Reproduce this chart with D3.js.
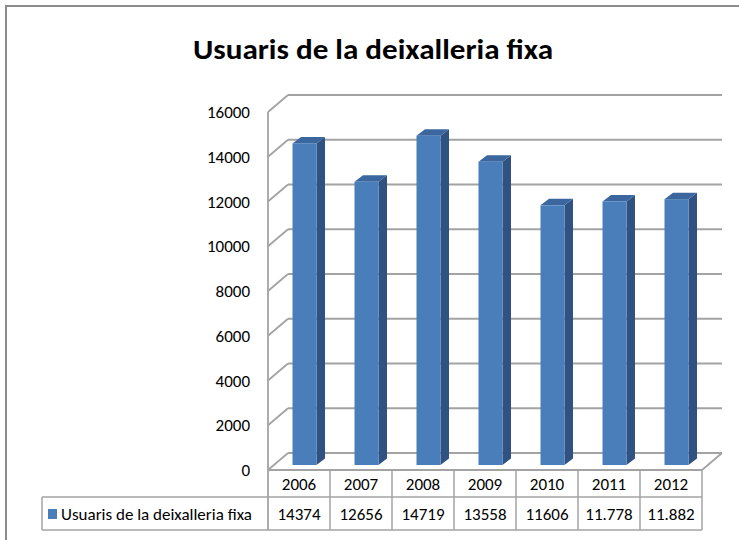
<!DOCTYPE html>
<html>
<head>
<meta charset="utf-8">
<script src="https://cdn.jsdelivr.net/npm/d3@7"></script>
<style>
	body { margin: 0; background: #fff; }
	#chart { width: 739px; height: 540px; }
</style>
</head>
<body>
<div id="chart"></div>
<script>
var titleText = 'Usuaris de la deixalleria fixa';
var seriesName = 'Usuaris de la deixalleria fixa';
var years = ['2006', '2007', '2008', '2009', '2010', '2011', '2012'];
var values = [14374, 12656, 14719, 13558, 11606, 11778, 11882];
var valueLabels = ['14374', '12656', '14719', '13558', '11606', '11.778', '11.882'];
var yTicks = [0, 2000, 4000, 6000, 8000, 10000, 12000, 14000, 16000];

var font = 'Carlito, "Liberation Sans Narrow", "Open Sans", sans-serif';
var gridColor = '#a3a3a3';

// 3d offsets
var wallDx = 20, wallDy = -17;
var barOffX = 5.5, barOffY = -5;
var barDx = 8.5, barDy = -6.5;

var svg = d3.select('#chart')
	.append('svg')
	.attr('width', 739)
	.attr('height', 540);

// outer frame (runs off the right and bottom edge)
svg.append('rect')
	.attr('x', 6).attr('y', 6)
	.attr('width', 760).attr('height', 560)
	.style('fill', 'none')
	.style('stroke', '#8c8c8c')
	.style('stroke-width', 2);

svg.append('text')
	.attr('x', 373)
	.attr('y', 59)
	.attr('text-anchor', 'middle')
	.attr('textLength', 360)
	.attr('lengthAdjust', 'spacingAndGlyphs')
	.style('font-family', font)
	.style('font-weight', 'bold')
	.style('font-size', '29px')
	.style('fill', '#000')
	.text(titleText);

var x = d3.scaleBand()
	.domain(years)
	.range([268, 702])
	.paddingInner(0)
	.paddingOuter(0);

var y = d3.scaleLinear()
	.domain([0, 16000])
	.range([470, 112]);

var grid = svg.append('g')
	.style('stroke', gridColor)
	.style('stroke-width', 1.8)
	.style('fill', 'none');

// back wall gridlines and side wall diagonals
yTicks.forEach(function(t) {
	grid.append('line')
		.attr('x1', x.range()[0] + wallDx).attr('y1', y(t) + wallDy)
		.attr('x2', x.range()[1] + wallDx).attr('y2', y(t) + wallDy);
	grid.append('line')
		.attr('x1', x.range()[0]).attr('y1', y(t))
		.attr('x2', x.range()[0] + wallDx).attr('y2', y(t) + wallDy);
});

// left front edge
grid.append('line')
	.attr('x1', x.range()[0]).attr('y1', y(16000))
	.attr('x2', x.range()[0]).attr('y2', 530);

// floor front edge and right diagonal
grid.append('line')
	.attr('x1', x.range()[0]).attr('y1', y(0))
	.attr('x2', x.range()[1]).attr('y2', y(0));
grid.append('line')
	.attr('x1', x.range()[1]).attr('y1', y(0))
	.attr('x2', x.range()[1] + wallDx).attr('y2', y(0) + wallDy);

// y labels
svg.append('g').selectAll('text')
	.data(yTicks)
	.enter().append('text')
	.attr('x', 250)
	.attr('y', function(d) { return y(d) + 6; })
	.attr('text-anchor', 'end')
	.style('font-family', font)
	.style('font-size', '17px')
	.style('fill', '#000')
	.text(function(d) { return d; });

// bars
var barW = 24;
var bars = svg.append('g').selectAll('g')
	.data(values)
	.enter().append('g');

function bx(i) { return x(years[i]) + (x.bandwidth() - barW) / 2 + barOffX; }
function by0() { return y(0) + barOffY; }
function byTop(d) { return by0() - (y(0) - y(d)); }

bars.append('path')
	.style('fill', '#2f5282')
	.attr('d', function(d, i) {
		var xr = bx(i) + barW, yt = byTop(d), yb = by0();
		return 'M' + xr + ',' + yt + 'L' + (xr + barDx) + ',' + (yt + barDy) +
			'L' + (xr + barDx) + ',' + (yb + barDy) + 'L' + xr + ',' + yb + 'Z';
	});

bars.append('path')
	.style('fill', '#3b679e')
	.attr('d', function(d, i) {
		var xl = bx(i), yt = byTop(d);
		return 'M' + xl + ',' + yt + 'L' + (xl + barDx) + ',' + (yt + barDy) +
			'L' + (xl + barW + barDx) + ',' + (yt + barDy) + 'L' + (xl + barW) + ',' + yt + 'Z';
	});

bars.append('rect')
	.attr('x', function(d, i) { return bx(i); })
	.attr('y', function(d) { return byTop(d); })
	.attr('width', barW)
	.attr('height', function(d) { return by0() - byTop(d); })
	.style('fill', '#4a7ebb');

// data table
var rowTop = 470, rowMid = 497, rowBot = 530;
var table = svg.append('g')
	.style('stroke', gridColor)
	.style('stroke-width', 1.5)
	.style('fill', 'none');

table.append('line')
	.attr('x1', 42).attr('y1', rowMid).attr('x2', x.range()[1]).attr('y2', rowMid);
table.append('line')
	.attr('x1', 42).attr('y1', rowBot).attr('x2', x.range()[1]).attr('y2', rowBot);
table.append('line')
	.attr('x1', 42).attr('y1', rowMid).attr('x2', 42).attr('y2', rowBot);

years.forEach(function(yr) {
	table.append('line')
		.attr('x1', x(yr) + x.bandwidth()).attr('y1', rowTop)
		.attr('x2', x(yr) + x.bandwidth()).attr('y2', rowBot);
});

svg.append('g').selectAll('text')
	.data(years)
	.enter().append('text')
	.attr('x', function(d) { return x(d) + x.bandwidth() / 2; })
	.attr('y', 490)
	.attr('text-anchor', 'middle')
	.style('font-family', font)
	.style('font-size', '17px')
	.style('fill', '#000')
	.text(function(d) { return d; });

svg.append('g').selectAll('text')
	.data(valueLabels)
	.enter().append('text')
	.attr('x', function(d, i) { return x(years[i]) + x.bandwidth() / 2; })
	.attr('y', 520)
	.attr('text-anchor', 'middle')
	.style('font-family', font)
	.style('font-size', '17px')
	.style('fill', '#000')
	.text(function(d) { return d; });

svg.append('rect')
	.attr('x', 48).attr('y', 509)
	.attr('width', 9).attr('height', 10)
	.style('fill', '#4a7ebb');

svg.append('text')
	.attr('x', 61)
	.attr('y', 520)
	.style('font-family', font)
	.style('font-size', '17px')
	.style('fill', '#000')
	.text(seriesName);
</script>
</body>
</html>
